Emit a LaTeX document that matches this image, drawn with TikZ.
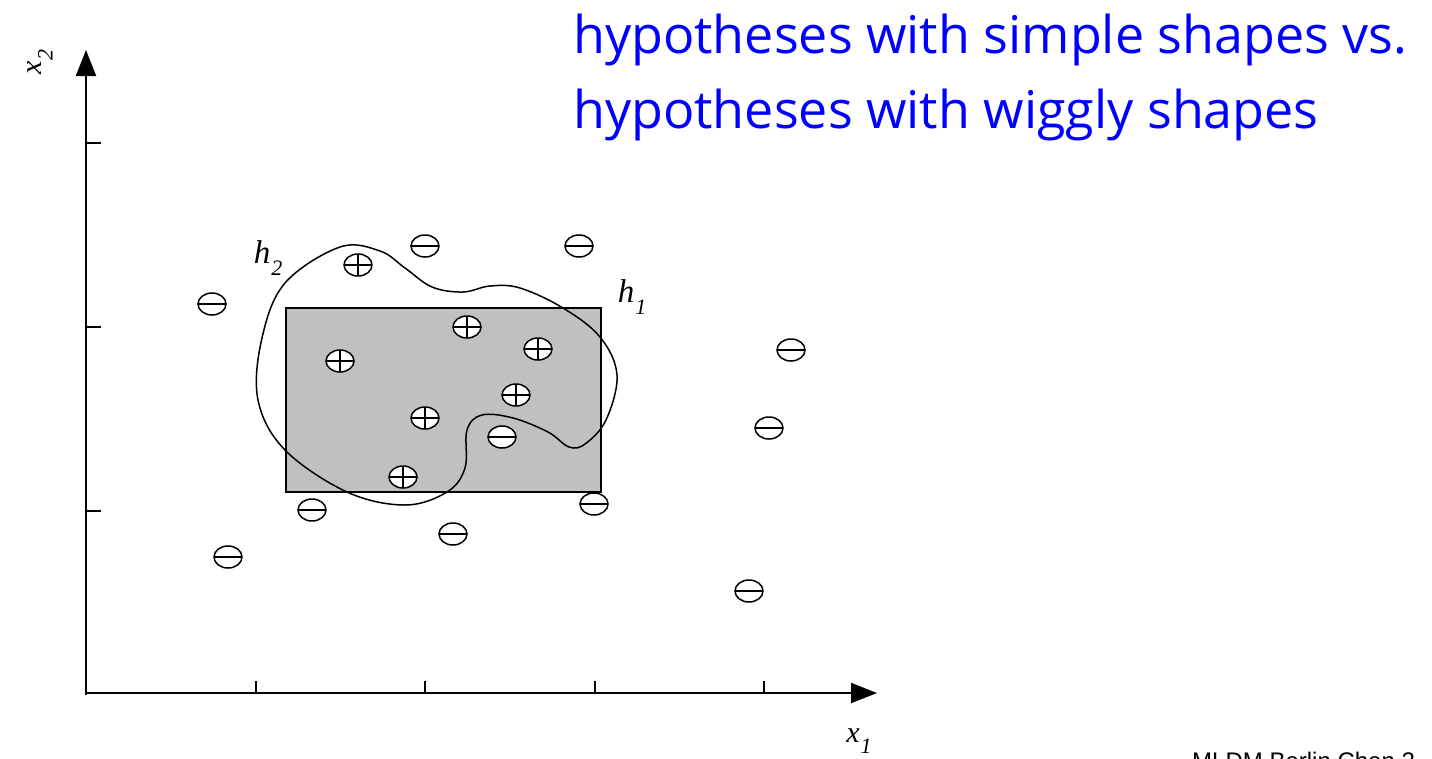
\documentclass[tikz,border=0pt]{standalone}
\usepackage{fontspec}
\setmainfont{Liberation Serif}
\newfontfamily\titlefont{Open Sans}
\newfontfamily\footfont{Liberation Sans}
\usetikzlibrary{shapes.geometric,arrows.meta}
\definecolor{titleblue}{RGB}{0,0,255}
\definecolor{boxgray}{RGB}{192,192,192}
\newcommand\vsym[2]{{\itshape #1}\kern1pt\raisebox{-0.38em}{\fontsize{22}{23}\selectfont\itshape #2}}
\tikzset{
  axisline/.style={line width=2pt,-{Triangle[length=26pt,width=20pt]}},
  tickline/.style={line width=1.5pt},
  ptbase/.style={ellipse,draw,line width=1.5pt,fill=white,minimum width=28pt,minimum height=22pt,inner sep=0pt},
  negpt/.style={ptbase,path picture={\draw[line width=1.5pt] (path picture bounding box.west) -- (path picture bounding box.east);}},
  pospt/.style={ptbase,path picture={\draw[line width=1.5pt] (path picture bounding box.west) -- (path picture bounding box.east);
      \draw[line width=1.5pt] (path picture bounding box.north) -- (path picture bounding box.south);}},
  hyplabel/.style={font=\fontsize{33}{34}\selectfont,inner sep=0pt},
  axlabel/.style={font=\fontsize{30}{32}\selectfont,inner sep=0pt},
  titletext/.style={font=\titlefont\fontsize{52}{75}\selectfont,text=titleblue,anchor=base west,inner sep=0pt},
}
\begin{document}
\begin{tikzpicture}[x=1pt,y=-1pt]
\useasboundingbox (0,0) rectangle (1432,758);
\clip (0,0) rectangle (1432,758);
% axes
\coordinate (o) at (86,693);
\coordinate (ytip) at (86,50);
\coordinate (xtip) at (877,693);
\draw[axisline] (86,695) -- (ytip);
\draw[axisline] (85,693) -- (xtip);
% ticks
\foreach \yy in {143,327,511} \draw[tickline] (86,\yy) -- (101,\yy);
\foreach \xx in {256,425,595,764} \draw[tickline] (\xx,693) -- (\xx,681);
% axis labels
\node[axlabel] (xlab) at (859,741) {\vsym{x}{1}};
\node[axlabel,rotate=90] (ylab) at (40,62) {\vsym{x}{2}};
% h1 rectangle
\node[draw,line width=1.5pt,fill=boxgray,minimum width=315pt,minimum height=184pt,inner sep=0pt] (h1box) at (443.5,400) {};
% h2 wiggly curve
\draw[line width=1.5pt] plot[smooth cycle,tension=0.6] coordinates {
 (340,247) (380,251) (405,268) (432,287) (463,292) (490,286) (520,288) (563,308)
 (600,337) (617,375) (606,420) (585,444) (569,447) (548,432) (513,418) (482,415)
 (467,430) (465,468) (447,492) (405,505) (347,492) (285,450) (258,400) (262,338) (285,283)};
% labels
\node[hyplabel] (h2lab) at (268,258) {\vsym{h}{2}};
\node[hyplabel] (h1lab) at (632,297) {\vsym{h}{1}};
% negative points
\node[negpt] (n1) at (212,304) {};
\node[negpt] (n2) at (425,246) {};
\node[negpt] (n3) at (579,246) {};
\node[negpt] (n4) at (791,350) {};
\node[negpt] (n5) at (769,428) {};
\node[negpt] (n6) at (502,437) {};
\node[negpt] (n7) at (312,510) {};
\node[negpt] (n8) at (594,504) {};
\node[negpt] (n9) at (453,534) {};
\node[negpt] (n10) at (228,557) {};
\node[negpt] (n11) at (749,591) {};
% positive points
\node[pospt] (p1) at (358,265) {};
\node[pospt] (p2) at (467,327) {};
\node[pospt] (p3) at (538,349) {};
\node[pospt] (p4) at (340,361) {};
\node[pospt] (p5) at (516,395) {};
\node[pospt] (p6) at (425,418) {};
\node[pospt] (p7) at (403,477) {};
% title
\node[titletext] (t1) at (573,53) {hypotheses with simple shapes vs.};
\node[titletext] (t2) at (573,128) {hypotheses with wiggly shapes};
% footer
\node[font=\footfont\fontsize{24}{26}\selectfont,anchor=base west,inner sep=0pt] (foot) at (1192,769) {MLDM Berlin Chen 2};
\end{tikzpicture}
\end{document}
